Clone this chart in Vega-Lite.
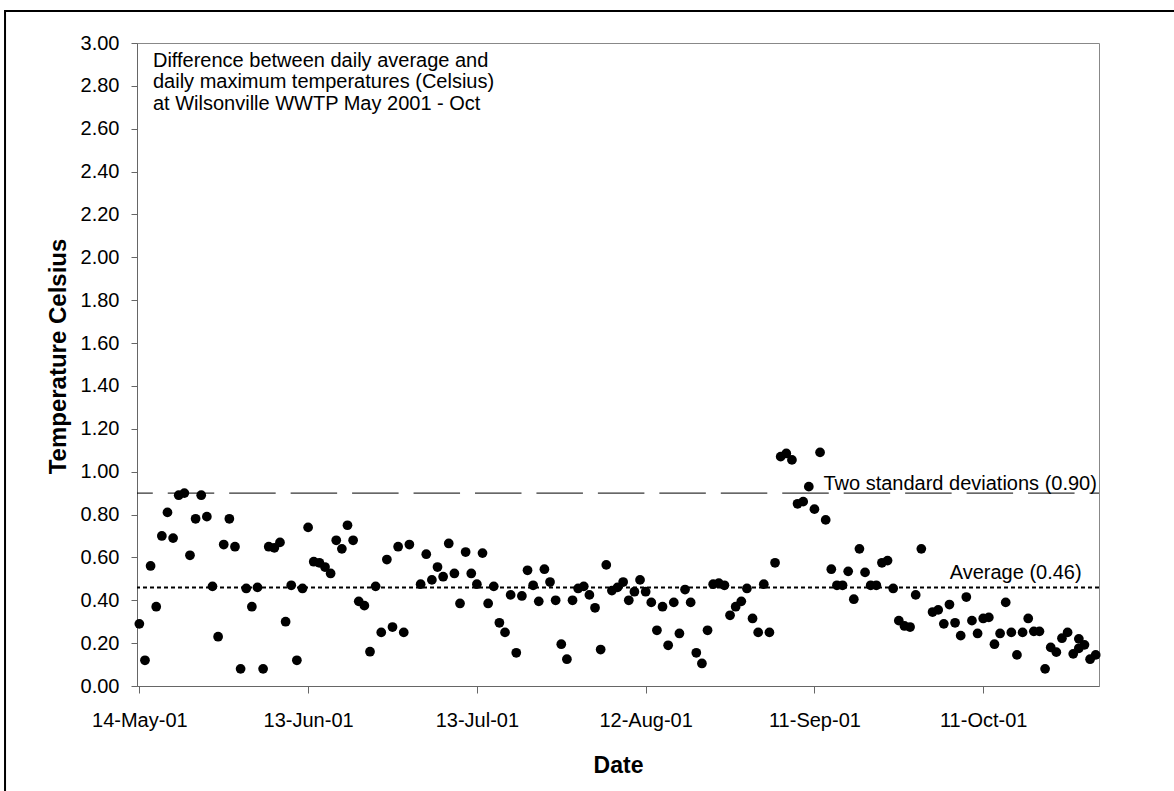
{
  "$schema": "https://vega.github.io/schema/vega-lite/v6.json",
  "width": 962,
  "height": 643,
  "autosize": {"type": "none"},
  "padding": {"left": 137, "top": 43, "right": 75, "bottom": 105},
  "background": "white",
  "config": {
    "view": {"stroke": "#888888", "strokeWidth": 1},
    "font": "Liberation Sans",
    "text": {"font": "Liberation Sans"}
  },
  "layer": [
    {
      "data": {"values": [{}]},
      "mark": {"type": "rect", "fill": "transparent", "stroke": "black", "strokeWidth": 2, "clip": false},
      "encoding": {
        "x": {"datum": {"year": 2001, "month": 4, "date": 20, "hours": 3}, "type": "temporal"},
        "x2": {"datum": {"year": 2002, "month": 1, "date": 1}},
        "y": {"datum": 3.149, "type": "quantitative"},
        "y2": {"datum": -1}
      }
    },
    {
      "data": {"values": [{}]},
      "mark": {"type": "rule", "color": "black", "strokeWidth": 1, "strokeDash": [46.5, 14.95], "strokeDashOffset": 37},
      "encoding": {"y": {"datum": 0.9, "type": "quantitative"}}
    },
    {
      "data": {"values": [{}]},
      "mark": {"type": "rule", "color": "black", "strokeWidth": 2, "strokeDash": [4, 3]},
      "encoding": {"y": {"datum": 0.46, "type": "quantitative"}}
    },
    {
      "data": {
        "values": [
          {"date": "2001-05-14", "v": 0.29}, {"date": "2001-05-15", "v": 0.12}, {"date": "2001-05-16", "v": 0.56},
          {"date": "2001-05-17", "v": 0.37}, {"date": "2001-05-18", "v": 0.70}, {"date": "2001-05-19", "v": 0.81},
          {"date": "2001-05-20", "v": 0.69}, {"date": "2001-05-21", "v": 0.89}, {"date": "2001-05-22", "v": 0.90},
          {"date": "2001-05-23", "v": 0.61}, {"date": "2001-05-24", "v": 0.78}, {"date": "2001-05-25", "v": 0.89},
          {"date": "2001-05-26", "v": 0.79}, {"date": "2001-05-27", "v": 0.465}, {"date": "2001-05-28", "v": 0.23},
          {"date": "2001-05-29", "v": 0.66}, {"date": "2001-05-30", "v": 0.78}, {"date": "2001-05-31", "v": 0.65},
          {"date": "2001-06-01", "v": 0.08}, {"date": "2001-06-02", "v": 0.455}, {"date": "2001-06-03", "v": 0.37},
          {"date": "2001-06-04", "v": 0.46}, {"date": "2001-06-05", "v": 0.08}, {"date": "2001-06-06", "v": 0.65},
          {"date": "2001-06-07", "v": 0.645}, {"date": "2001-06-08", "v": 0.67}, {"date": "2001-06-09", "v": 0.30},
          {"date": "2001-06-10", "v": 0.47}, {"date": "2001-06-11", "v": 0.12}, {"date": "2001-06-12", "v": 0.455},
          {"date": "2001-06-13", "v": 0.74}, {"date": "2001-06-14", "v": 0.58}, {"date": "2001-06-15", "v": 0.575},
          {"date": "2001-06-16", "v": 0.555}, {"date": "2001-06-17", "v": 0.525}, {"date": "2001-06-18", "v": 0.68},
          {"date": "2001-06-19", "v": 0.64}, {"date": "2001-06-20", "v": 0.75}, {"date": "2001-06-21", "v": 0.68},
          {"date": "2001-06-22", "v": 0.395}, {"date": "2001-06-23", "v": 0.375}, {"date": "2001-06-24", "v": 0.16},
          {"date": "2001-06-25", "v": 0.465}, {"date": "2001-06-26", "v": 0.25}, {"date": "2001-06-27", "v": 0.59},
          {"date": "2001-06-28", "v": 0.275}, {"date": "2001-06-29", "v": 0.65}, {"date": "2001-06-30", "v": 0.25},
          {"date": "2001-07-01", "v": 0.66}, {"date": "2001-07-03", "v": 0.475}, {"date": "2001-07-04", "v": 0.615},
          {"date": "2001-07-05", "v": 0.495}, {"date": "2001-07-06", "v": 0.555}, {"date": "2001-07-07", "v": 0.51},
          {"date": "2001-07-08", "v": 0.665}, {"date": "2001-07-09", "v": 0.525}, {"date": "2001-07-10", "v": 0.385},
          {"date": "2001-07-11", "v": 0.625}, {"date": "2001-07-12", "v": 0.525}, {"date": "2001-07-13", "v": 0.475},
          {"date": "2001-07-14", "v": 0.62}, {"date": "2001-07-15", "v": 0.385}, {"date": "2001-07-16", "v": 0.465},
          {"date": "2001-07-17", "v": 0.295}, {"date": "2001-07-18", "v": 0.25}, {"date": "2001-07-19", "v": 0.425},
          {"date": "2001-07-20", "v": 0.155}, {"date": "2001-07-21", "v": 0.42}, {"date": "2001-07-22", "v": 0.54},
          {"date": "2001-07-23", "v": 0.47}, {"date": "2001-07-24", "v": 0.395}, {"date": "2001-07-25", "v": 0.545},
          {"date": "2001-07-26", "v": 0.485}, {"date": "2001-07-27", "v": 0.40}, {"date": "2001-07-28", "v": 0.195},
          {"date": "2001-07-29", "v": 0.125}, {"date": "2001-07-30", "v": 0.40}, {"date": "2001-07-31", "v": 0.455},
          {"date": "2001-08-01", "v": 0.465}, {"date": "2001-08-02", "v": 0.425}, {"date": "2001-08-03", "v": 0.365},
          {"date": "2001-08-04", "v": 0.17}, {"date": "2001-08-05", "v": 0.565}, {"date": "2001-08-06", "v": 0.445},
          {"date": "2001-08-07", "v": 0.46}, {"date": "2001-08-08", "v": 0.485}, {"date": "2001-08-09", "v": 0.40},
          {"date": "2001-08-10", "v": 0.44}, {"date": "2001-08-11", "v": 0.495}, {"date": "2001-08-12", "v": 0.44},
          {"date": "2001-08-13", "v": 0.39}, {"date": "2001-08-14", "v": 0.26}, {"date": "2001-08-15", "v": 0.37},
          {"date": "2001-08-16", "v": 0.19}, {"date": "2001-08-17", "v": 0.39}, {"date": "2001-08-18", "v": 0.245},
          {"date": "2001-08-19", "v": 0.45}, {"date": "2001-08-20", "v": 0.39}, {"date": "2001-08-21", "v": 0.155},
          {"date": "2001-08-22", "v": 0.105}, {"date": "2001-08-23", "v": 0.26}, {"date": "2001-08-24", "v": 0.475},
          {"date": "2001-08-25", "v": 0.48}, {"date": "2001-08-26", "v": 0.47}, {"date": "2001-08-27", "v": 0.33},
          {"date": "2001-08-28", "v": 0.37}, {"date": "2001-08-29", "v": 0.395}, {"date": "2001-08-30", "v": 0.455},
          {"date": "2001-08-31", "v": 0.315}, {"date": "2001-09-01", "v": 0.25}, {"date": "2001-09-02", "v": 0.475},
          {"date": "2001-09-03", "v": 0.25}, {"date": "2001-09-04", "v": 0.575}, {"date": "2001-09-05", "v": 1.07},
          {"date": "2001-09-06", "v": 1.085}, {"date": "2001-09-07", "v": 1.055}, {"date": "2001-09-08", "v": 0.85},
          {"date": "2001-09-09", "v": 0.86}, {"date": "2001-09-10", "v": 0.93}, {"date": "2001-09-11", "v": 0.825},
          {"date": "2001-09-12", "v": 1.09}, {"date": "2001-09-13", "v": 0.775}, {"date": "2001-09-14", "v": 0.545},
          {"date": "2001-09-15", "v": 0.47}, {"date": "2001-09-16", "v": 0.47}, {"date": "2001-09-17", "v": 0.535},
          {"date": "2001-09-18", "v": 0.405}, {"date": "2001-09-19", "v": 0.64}, {"date": "2001-09-20", "v": 0.53},
          {"date": "2001-09-21", "v": 0.47}, {"date": "2001-09-22", "v": 0.47}, {"date": "2001-09-23", "v": 0.575},
          {"date": "2001-09-24", "v": 0.585}, {"date": "2001-09-25", "v": 0.455}, {"date": "2001-09-26", "v": 0.305},
          {"date": "2001-09-27", "v": 0.28}, {"date": "2001-09-28", "v": 0.275}, {"date": "2001-09-29", "v": 0.425},
          {"date": "2001-09-30", "v": 0.64}, {"date": "2001-10-02", "v": 0.345}, {"date": "2001-10-03", "v": 0.355},
          {"date": "2001-10-04", "v": 0.29}, {"date": "2001-10-05", "v": 0.38}, {"date": "2001-10-06", "v": 0.295},
          {"date": "2001-10-07", "v": 0.235}, {"date": "2001-10-08", "v": 0.415}, {"date": "2001-10-09", "v": 0.305},
          {"date": "2001-10-10", "v": 0.245}, {"date": "2001-10-11", "v": 0.315}, {"date": "2001-10-12", "v": 0.32},
          {"date": "2001-10-13", "v": 0.195}, {"date": "2001-10-14", "v": 0.245}, {"date": "2001-10-15", "v": 0.39},
          {"date": "2001-10-16", "v": 0.25}, {"date": "2001-10-17", "v": 0.145}, {"date": "2001-10-18", "v": 0.25},
          {"date": "2001-10-19", "v": 0.315}, {"date": "2001-10-20", "v": 0.255}, {"date": "2001-10-21", "v": 0.255},
          {"date": "2001-10-22", "v": 0.08}, {"date": "2001-10-23", "v": 0.18}, {"date": "2001-10-24", "v": 0.158},
          {"date": "2001-10-25", "v": 0.223}, {"date": "2001-10-26", "v": 0.25}, {"date": "2001-10-27", "v": 0.15},
          {"date": "2001-10-28", "v": 0.22}, {"date": "2001-10-28", "v": 0.176}, {"date": "2001-10-29", "v": 0.192},
          {"date": "2001-10-30", "v": 0.125}, {"date": "2001-10-31", "v": 0.145}
        ],
        "format": {"parse": {"date": "date:'%Y-%m-%d'"}}
      },
      "mark": {"type": "circle", "size": 95, "color": "black", "opacity": 1},
      "encoding": {
        "x": {
          "field": "date",
          "type": "temporal",
          "scale": {"domain": [{"year": 2001, "month": 5, "date": 13, "hours": 14}, {"year": 2001, "month": 10, "date": 31, "hours": 14}]},
          "axis": {
            "values": [
              {"year": 2001, "month": 5, "date": 14},
              {"year": 2001, "month": 6, "date": 13},
              {"year": 2001, "month": 7, "date": 13},
              {"year": 2001, "month": 8, "date": 12},
              {"year": 2001, "month": 9, "date": 11},
              {"year": 2001, "month": 10, "date": 11}
            ],
            "format": "%-d-%b-%y",
            "title": "Date",
            "grid": false,
            "tickSize": 7,
            "tickColor": "#666666",
            "domainColor": "#666666",
            "labelFontSize": 20,
            "labelColor": "black",
            "labelPadding": 17,
            "labelOverlap": false,
            "labelFlush": false,
            "labelBound": false,
            "titleFontSize": 23,
            "titleFontWeight": "bold",
            "titleColor": "black",
            "titleY": 86,
            "titleBaseline": "alphabetic"
          }
        },
        "y": {
          "field": "v",
          "type": "quantitative",
          "scale": {"domain": [0, 3], "nice": false, "zero": true},
          "axis": {
            "values": [0, 0.2, 0.4, 0.6, 0.8, 1.0, 1.2, 1.4, 1.6, 1.8, 2.0, 2.2, 2.4, 2.6, 2.8, 3.0],
            "format": ".2f",
            "title": "Temperature Celsius",
            "grid": false,
            "tickSize": 6,
            "tickColor": "#666666",
            "domainColor": "#666666",
            "labelFontSize": 20,
            "labelColor": "black",
            "labelPadding": 12,
            "labelOverlap": false,
            "labelBound": false,
            "labelFlush": false,
            "titleFontSize": 24,
            "titleFontWeight": "bold",
            "titleColor": "black",
            "titleX": -79,
            "titleY": 313,
            "titleAngle": -90,
            "titleAlign": "center",
            "titleBaseline": "middle"
          }
        }
      }
    },
    {
      "data": {"values": [{}]},
      "mark": {"type": "text", "text": "Two standard deviations (0.90)", "fontSize": 20, "align": "right", "baseline": "alphabetic", "dy": -3, "color": "black"},
      "encoding": {
        "x": {"datum": {"year": 2001, "month": 10, "date": 31, "hours": 5}, "type": "temporal"},
        "y": {"datum": 0.9, "type": "quantitative"}
      }
    },
    {
      "data": {"values": [{}]},
      "mark": {"type": "text", "text": "Average (0.46)", "fontSize": 20, "align": "right", "baseline": "alphabetic", "dy": -8, "color": "black"},
      "encoding": {
        "x": {"datum": {"year": 2001, "month": 10, "date": 28, "hours": 12}, "type": "temporal"},
        "y": {"datum": 0.46, "type": "quantitative"}
      }
    },
    {
      "data": {"values": [{}]},
      "mark": {"type": "text", "text": ["Difference between daily average and", "daily maximum temperatures (Celsius)", "at Wilsonville WWTP May 2001 - Oct"], "fontSize": 20, "lineHeight": 21.7, "align": "left", "baseline": "alphabetic", "color": "black"},
      "encoding": {
        "x": {"datum": {"year": 2001, "month": 5, "date": 16, "hours": 10}, "type": "temporal"},
        "y": {"datum": 2.89, "type": "quantitative"}
      }
    }
  ]
}
